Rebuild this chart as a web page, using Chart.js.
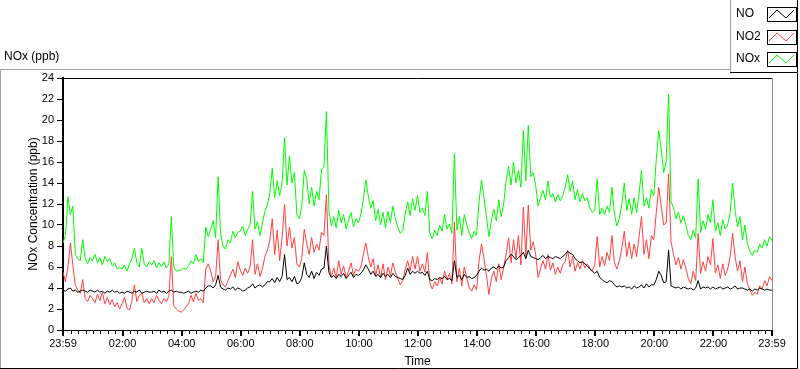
<!DOCTYPE html>
<html><head><meta charset="utf-8">
<script src="https://cdn.jsdelivr.net/npm/chart.js@4/dist/chart.umd.min.js"></script>
<style>html,body{margin:0;padding:0;background:#fff;overflow:hidden}#wrap{position:relative;width:800px;height:369px}</style>
</head><body><div id="wrap"><canvas id="c" width="800" height="369"></canvas></div>
<script>
// ---- data (one sample every 5 minutes, minute 0 = 23:59) ----
const stepMinutes = 5;
const seriesNames = ["NO", "NO2", "NOx"];
const seriesColors = ["#000000", "#ff4040", "#00ff00"];

const noValues = [
3.8,3.7,3.9,4.0,3.7,3.8,3.6,3.7,3.8,3.7,3.6,3.8,
3.7,3.6,3.8,3.6,3.7,3.5,3.7,3.6,3.8,3.6,3.7,3.5,
3.6,3.5,3.7,3.6,3.5,3.7,3.6,3.8,3.5,3.6,3.7,3.6,
3.6,3.7,3.5,3.8,3.6,3.7,3.5,3.7,3.8,3.6,3.7,3.6,
3.6,3.5,3.6,3.7,3.5,3.6,3.7,3.6,3.8,3.7,4.0,4.2,
4.2,4.0,4.3,5.2,4.1,3.9,3.8,4.0,3.9,4.1,3.8,4.0,
3.9,3.7,3.8,4.0,4.1,4.4,4.0,4.2,4.3,4.1,4.3,4.6,
4.6,4.9,4.5,5.0,4.6,5.1,7.2,4.8,5.0,4.6,5.1,4.4,
4.5,5.0,6.4,5.3,5.0,5.6,4.9,5.5,5.2,5.8,5.9,8.0,
5.5,5.0,5.2,4.9,5.3,5.1,5.4,4.9,5.2,5.5,5.0,5.3,
5.2,5.4,5.7,6.2,5.8,5.3,5.6,5.1,5.3,5.0,5.4,5.1,
5.3,5.0,5.4,5.1,5.0,4.9,4.8,5.2,5.9,5.3,5.6,5.4,
5.6,5.4,5.5,5.2,5.6,4.8,4.7,4.9,4.8,5.0,4.9,5.1,
4.8,4.9,4.7,6.6,5.0,5.2,4.8,5.3,5.0,5.1,4.9,5.0,
5.2,5.6,5.9,5.7,5.8,5.6,5.9,6.0,5.8,6.1,5.9,6.0,
6.6,6.9,7.2,7.0,6.7,6.9,7.1,7.4,6.8,7.6,7.0,6.9,
6.8,6.7,6.9,7.1,6.8,7.0,6.9,6.8,7.0,6.9,6.8,7.0,
7.2,7.5,7.3,7.2,6.8,6.6,6.4,6.5,6.3,6.1,5.8,5.6,
5.4,5.6,5.0,4.8,4.6,4.5,4.7,4.6,4.3,4.1,4.2,4.1,
4.2,4.0,4.1,3.9,4.2,4.0,4.1,4.3,4.0,4.4,4.1,4.3,
4.3,4.8,5.6,5.2,4.5,4.6,7.6,4.2,4.1,4.0,4.1,3.9,
4.1,4.0,3.9,4.0,3.8,4.0,4.7,3.9,4.1,4.0,4.1,3.9,
4.1,3.9,4.0,4.1,3.9,4.0,4.1,3.9,4.0,4.2,3.9,4.0,
4.0,3.9,3.8,3.9,3.7,3.9,3.8,4.0,3.9,3.8,3.9,3.8,3.8
];

const no2Values = [
5.5,4.6,6.0,8.3,6.2,4.3,3.8,3.5,4.8,3.0,2.7,3.3,
3.0,2.6,3.4,2.8,3.6,2.5,3.1,2.4,2.9,2.2,2.6,2.0,
2.5,3.1,2.1,1.9,2.8,4.3,2.7,3.3,3.5,2.6,3.0,2.5,
3.0,2.6,3.3,2.8,2.5,3.0,2.7,3.2,7.0,2.3,2.0,1.8,
1.7,1.9,2.2,2.5,3.3,2.7,3.5,2.8,3.0,2.6,5.8,6.3,
5.6,4.6,5.1,8.6,4.8,4.3,4.1,4.7,5.2,5.8,5.0,6.5,
5.7,5.2,5.9,5.4,6.0,8.6,5.3,6.3,5.1,5.8,7.0,7.6,
8.5,10.6,7.2,9.5,6.6,8.8,12.0,8.0,9.8,7.8,8.8,6.3,
6.0,6.8,9.6,8.2,7.2,8.8,7.4,8.2,7.6,9.3,9.0,12.9,
6.2,5.1,5.9,5.0,6.6,5.3,6.1,5.0,5.6,6.4,5.2,5.8,
5.6,6.0,7.2,8.3,7.0,6.0,6.8,5.2,6.2,5.0,6.3,4.8,
6.0,5.2,6.4,5.5,4.9,4.3,4.7,5.8,6.6,5.6,7.0,5.8,
7.0,5.6,6.3,5.5,7.4,4.5,3.9,4.6,4.2,5.0,4.4,5.6,
4.8,5.4,4.4,10.3,4.6,5.9,4.2,6.0,5.0,4.0,3.7,4.3,
3.8,6.6,8.2,6.8,5.2,3.4,4.9,5.6,4.6,6.3,4.8,6.0,
7.2,8.8,6.4,8.6,6.8,9.0,6.2,11.7,7.0,11.9,7.6,8.4,
7.2,5.0,5.9,6.6,5.8,7.2,5.7,6.4,5.3,6.0,5.4,6.2,
6.5,7.6,6.0,7.0,5.6,6.4,5.8,6.6,5.9,6.3,5.9,5.6,
6.2,8.9,6.0,7.0,6.1,7.4,6.6,9.0,6.4,5.8,6.6,7.8,
9.4,7.0,8.4,6.8,8.2,7.0,8.9,10.8,7.2,8.6,6.8,9.0,
8.6,11.2,13.6,11.8,10.0,10.2,14.9,8.4,7.2,6.2,6.9,5.8,
6.7,5.9,4.9,4.4,5.6,4.7,9.2,5.4,6.5,5.6,7.0,6.2,
8.7,5.4,6.2,4.9,6.3,5.2,5.8,7.0,9.2,7.0,5.6,6.6,
4.6,6.0,4.4,3.8,3.3,3.6,3.4,4.2,3.9,4.7,4.2,5.1,4.7
];

const noxValues = [
8.3,9.0,12.7,11.0,11.8,7.2,6.8,6.6,8.6,6.8,6.3,6.9,
6.6,7.2,6.4,6.9,6.2,7.0,6.5,6.8,6.1,6.4,5.8,6.0,
5.8,6.2,5.6,6.3,6.8,7.8,6.4,6.0,7.8,6.3,6.0,6.5,
6.2,6.6,5.9,6.4,6.0,6.5,5.9,6.3,10.8,6.0,5.6,5.7,
5.7,5.9,5.8,6.1,6.6,6.3,7.2,6.5,6.8,6.4,9.8,8.9,
9.6,10.4,8.8,14.6,9.2,8.0,7.7,8.6,8.3,9.4,8.8,9.3,
9.4,9.9,9.0,9.6,10.0,13.2,9.6,10.3,9.0,10.2,11.3,11.9,
13.0,15.4,12.6,14.2,12.8,14.0,18.3,13.8,16.6,14.0,15.0,11.0,
10.6,11.8,15.2,14.4,12.0,13.6,11.8,13.2,12.4,15.3,15.5,20.8,
11.5,9.9,10.8,9.7,11.4,10.2,11.0,9.6,10.5,11.2,9.8,10.6,
10.2,11.0,12.4,14.3,12.8,11.6,12.3,10.4,11.5,10.0,11.2,9.7,
11.3,10.2,11.8,10.6,9.8,9.2,9.5,11.0,12.2,10.9,12.5,11.4,
12.8,11.2,11.6,10.9,13.2,9.2,8.7,9.5,9.0,10.0,9.4,11.0,
9.6,10.1,9.2,16.8,9.5,10.8,9.0,11.0,10.0,9.3,8.7,9.4,
9.0,12.2,14.3,12.6,10.8,8.9,10.4,11.5,10.4,12.4,10.8,12.0,
14.2,15.6,13.8,16.0,14.0,15.2,13.6,19.0,14.2,19.5,14.6,15.0,
13.8,11.8,12.6,13.3,12.4,14.2,12.6,13.0,12.2,12.9,12.3,12.8,
13.6,14.8,13.2,14.2,12.4,13.4,12.2,13.0,12.3,12.6,11.6,11.2,
11.4,14.4,11.0,11.6,11.0,11.8,11.2,13.6,11.0,9.9,10.6,12.0,
14.0,11.4,12.5,11.0,12.6,11.2,13.0,15.2,11.8,12.6,11.6,13.4,
12.8,16.3,19.0,17.2,15.0,16.0,22.5,12.2,11.6,10.6,11.2,10.2,
10.9,10.0,9.0,8.6,9.5,8.8,14.4,9.3,10.4,9.6,11.0,10.2,
12.4,9.4,10.2,9.0,10.5,9.6,10.0,11.2,14.0,11.4,9.8,10.8,
8.6,10.0,8.2,7.5,7.1,7.6,7.4,8.2,7.8,8.6,8.0,8.9,8.5
];

const majorTickMinutes = [0,121,241,361,481,601,721,841,961,1081,1201,1321,1440];
const majorTickLabels = ["23:59","02:00","04:00","06:00","08:00","10:00","12:00","14:00","16:00","18:00","20:00","22:00","23:59"];
const yMin = 0, yMax = 24, yStep = 2;

// ---- build ----
const minorTickMinutes = [];
for (let m = 16; m < 1440; m += 15) minorTickMinutes.push(m);
const allTickMinutes = Array.from(new Set([...majorTickMinutes, ...minorTickMinutes])).sort((a,b)=>a-b);

const toPts = arr => arr.map((v, i) => ({x: i * stepMinutes, y: v}));
const valueSets = [noValues, no2Values, noxValues];

Chart.defaults.font.family = "'Liberation Sans', Arial, sans-serif";
Chart.defaults.color = '#000';

const framePlugin = {
  id: 'frame',
  beforeDraw(chart) {
    const c = chart.ctx;
    c.save();
    c.fillStyle = '#fff';
    c.fillRect(0, 0, chart.width, chart.height);
    c.lineWidth = 1;
    // outer panel
    c.strokeStyle = '#a0a0a0';
    c.beginPath();
    c.moveTo(0.5, 368); c.lineTo(0.5, 69.5); c.lineTo(731, 69.5);
    c.stroke();
    c.strokeStyle = '#000';
    c.beginPath();
    c.moveTo(797.5, 72); c.lineTo(797.5, 368.5); c.lineTo(0, 368.5);
    c.stroke();
    // panel title
    c.fillStyle = '#000';
    c.font = "12px 'Liberation Sans', Arial, sans-serif";
    c.textBaseline = 'middle';
    c.textAlign = 'left';
    c.fillText('NOx (ppb)', 4, 57);
    c.restore();
  },
  afterDraw(chart) {
    const c = chart.ctx;
    const a = chart.chartArea;
    c.save();
    c.lineWidth = 1;
    c.strokeStyle = '#000';
    c.beginPath();
    c.moveTo(a.left, Math.floor(a.top) + 0.5); c.lineTo(a.right, Math.floor(a.top) + 0.5);
    c.stroke();
    c.strokeStyle = '#8a8a8a';
    c.beginPath();
    c.moveTo(Math.round(a.right) + 0.5, a.top); c.lineTo(Math.round(a.right) + 0.5, a.bottom);
    c.stroke();
    // x tick marks (major longer/thicker)
    const sx = chart.scales.x;
    const y0 = Math.round(a.bottom);
    c.strokeStyle = '#000';
    sx.ticks.forEach(t => {
      const major = majorTickMinutes.includes(t.value);
      const px = Math.round(sx.getPixelForValue(t.value));
      c.lineWidth = major ? 2 : 1;
      c.beginPath();
      const xx = major ? px : px + 0.5;
      c.moveTo(xx, y0); c.lineTo(xx, y0 + (major ? 6 : 4));
      c.stroke();
    });
    // legend
    c.fillStyle = '#fff';
    c.fillRect(730, 0, 68, 73);
    c.lineWidth = 1;
    c.strokeStyle = '#a0a0a0';
    c.beginPath(); c.moveTo(730.5, 73); c.lineTo(730.5, 0); c.stroke();
    c.strokeStyle = '#000';
    c.beginPath(); c.moveTo(730, 72.5); c.lineTo(797.5, 72.5); c.lineTo(797.5, 0); c.stroke();
    const rowsY = [14, 36.5, 59];
    c.font = "12px 'Liberation Sans', Arial, sans-serif";
    c.textBaseline = 'middle';
    c.textAlign = 'left';
    chart.data.datasets.forEach((ds, i) => {
      const cy = rowsY[i];
      c.fillStyle = '#000';
      c.fillText(ds.label, 736, cy);
      const bx = 767, by = Math.round(cy - 7), bw = 29, bh = 14;
      c.fillStyle = '#fff';
      c.fillRect(bx, by, bw, bh);
      c.strokeStyle = '#000';
      c.lineWidth = 1;
      c.strokeRect(bx + 0.5, by + 0.5, bw, bh);
      c.strokeStyle = ds.borderColor;
      c.beginPath();
      c.moveTo(bx + 2, by + bh - 3);
      c.lineTo(bx + 10, by + 3);
      c.lineTo(bx + 19, by + bh - 3);
      c.lineTo(bx + 27, by + 3);
      c.stroke();
    });
    c.restore();
  }
};

new Chart(document.getElementById('c'), {
  type: 'line',
  data: {
    datasets: seriesNames.map((n, i) => ({
      label: n,
      data: toPts(valueSets[i]),
      borderColor: seriesColors[i],
      backgroundColor: seriesColors[i],
      borderWidth: 1,
      pointRadius: 0,
      tension: 0,
      fill: false
    }))
  },
  options: {
    responsive: false,
    animation: false,
    events: [],
    layout: {padding: {left: 26, top: 78, right: 28, bottom: 0}},
    plugins: {legend: {display: false}, tooltip: {enabled: false}},
    scales: {
      x: {
        type: 'linear', min: 0, max: 1440,
        afterBuildTicks: s => { s.ticks = allTickMinutes.map(v => ({value: v})); },
        afterFit: s => { s.height = 39; },
        ticks: {
          autoSkip: false, maxRotation: 0, minRotation: 0, padding: 7,
          font: {size: 11}, color: '#000',
          callback: v => { const k = majorTickMinutes.indexOf(v); return k >= 0 ? majorTickLabels[k] : ''; }
        },
        grid: {display: true, drawOnChartArea: false, drawTicks: false},
        border: {display: true, color: '#000', width: 1},
        title: {display: true, text: 'Time', font: {size: 12}, color: '#000', padding: 0}
      },
      y: {
        min: yMin, max: yMax,
        afterFit: s => { s.width = 37; },
        ticks: {stepSize: yStep, padding: 3, font: {size: 11}, color: '#000'},
        grid: {drawOnChartArea: false, drawTicks: true, tickLength: 6, color: '#000'},
        border: {display: true, color: '#000', width: 2},
        title: {display: true, text: 'NOx Concentration (ppb)', font: {size: 12}, color: '#000', padding: 0}
      }
    }
  },
  plugins: [framePlugin]
});
</script>
</body></html>
